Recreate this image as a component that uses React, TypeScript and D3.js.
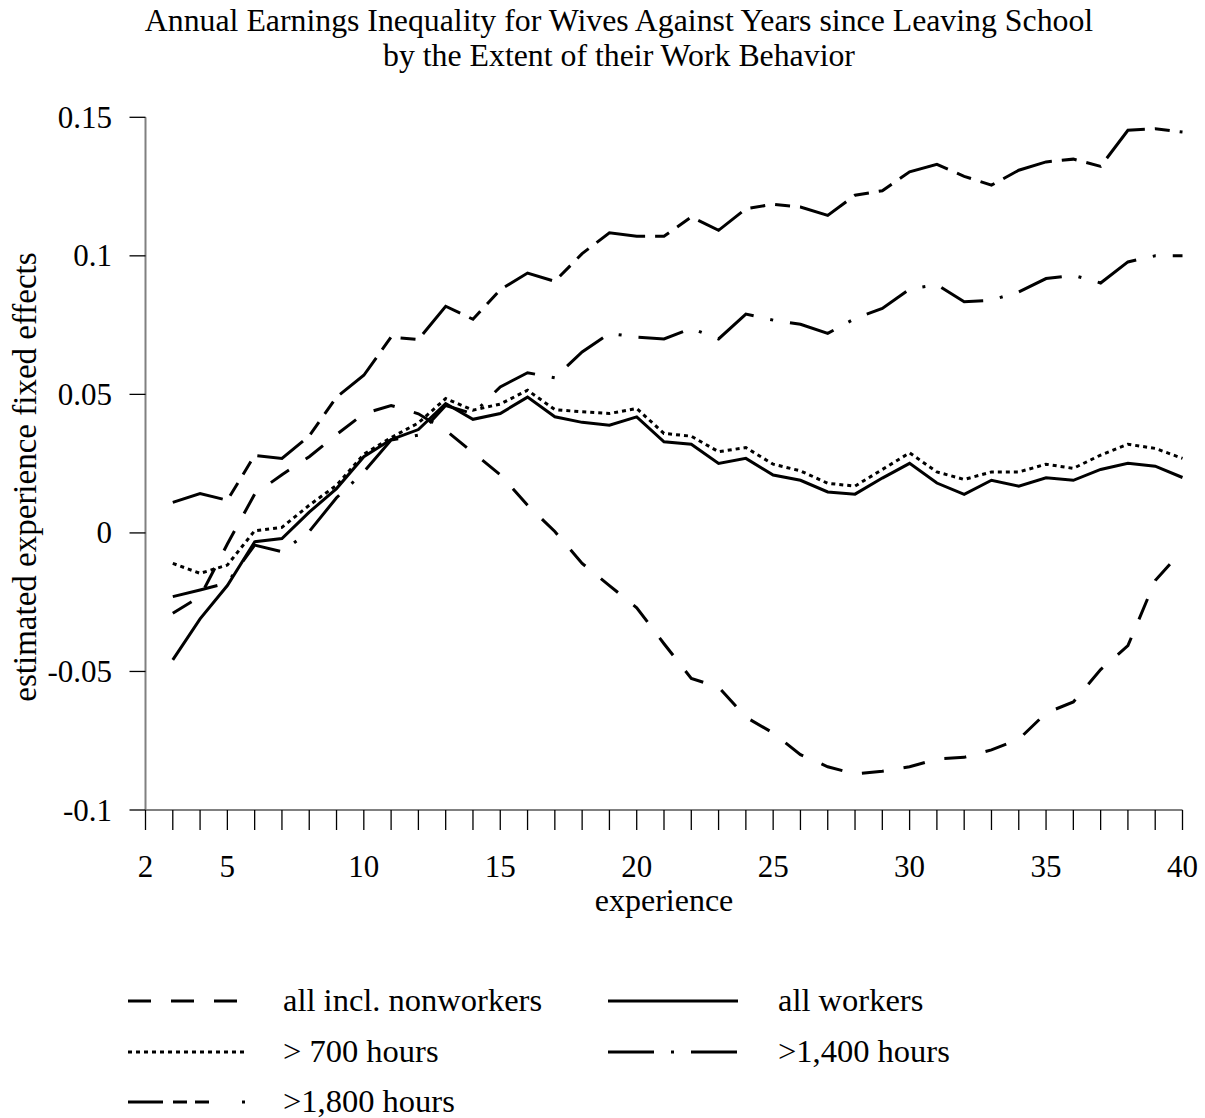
import React from 'react';
import * as d3 from 'd3';

const experience = [3,4,5,6,7,8,9,10,11,12,13,14,15,16,17,18,19,20,21,22,23,24,25,26,27,28,29,30,31,32,33,34,35,36,37,38,39,40];

const allInclNonworkers = [-0.029,-0.023,-0.004,0.014,0.021,0.0275,0.0355,0.043,0.046,0.043,0.037,0.029,0.021,0.010,0.0005,-0.011,-0.019,-0.027,-0.040,-0.0525,-0.0557,-0.0665,-0.0722,-0.080,-0.0844,-0.087,-0.086,-0.0844,-0.0816,-0.081,-0.0783,-0.0745,-0.065,-0.061,-0.0493,-0.0407,-0.0172,-0.0062];

const allWorkers = [-0.0458,-0.031,-0.019,-0.0032,-0.002,0.0075,0.016,0.0275,0.0337,0.0373,0.0467,0.041,0.0431,0.049,0.0419,0.0399,0.0389,0.0419,0.0329,0.032,0.0251,0.0269,0.0209,0.019,0.0148,0.014,0.0198,0.0251,0.018,0.0139,0.019,0.0169,0.0199,0.019,0.0229,0.0251,0.0241,0.020];

const over700 = [-0.011,-0.0146,-0.0116,0.0008,0.002,0.010,0.0172,0.0284,0.0344,0.0397,0.0485,0.0443,0.0465,0.0515,0.0445,0.0437,0.0431,0.0449,0.0359,0.0349,0.0293,0.0308,0.0248,0.0224,0.0179,0.0169,0.0229,0.0289,0.022,0.0193,0.022,0.022,0.0248,0.0233,0.0281,0.032,0.0305,0.0269];

const over1400 = [-0.023,-0.0206,-0.018,-0.0044,-0.0068,0.0005,0.0127,0.022,0.0335,0.0353,0.046,0.043,0.0527,0.0578,0.056,0.0653,0.072,0.0707,0.070,0.0738,0.0700,0.079,0.0768,0.0753,0.072,0.0774,0.081,0.088,0.0896,0.0834,0.084,0.087,0.0918,0.093,0.0902,0.0978,0.100,0.100];

const over1800 = [0.011,0.0142,0.0118,0.028,0.0269,0.035,0.049,0.0569,0.0707,0.0698,0.0818,0.0771,0.0878,0.0938,0.0908,0.1008,0.1083,0.1071,0.1071,0.114,0.1092,0.117,0.1186,0.1176,0.1146,0.1219,0.1235,0.1303,0.133,0.1287,0.1255,0.1309,0.1339,0.1349,0.1323,0.1453,0.1459,0.1447];

const seriesNames = ['all incl. nonworkers', 'all workers', '> 700 hours', '>1,400 hours', '>1,800 hours'];

const xTickLabels = [2, 5, 10, 15, 20, 25, 30, 35, 40];
const yTicks = [0.15, 0.1, 0.05, 0, -0.05, -0.1];
const yTickLabels = ['0.15', '0.1', '0.05', '0', '-0.05', '-0.1'];

const titleLines = [
  'Annual Earnings Inequality for Wives Against Years since Leaving School',
  'by the Extent of their Work Behavior',
];

const FONT = '"Liberation Serif", "Times New Roman", serif';

const styles = [
  { dash: '22,20', legendDash: '23,20' },
  { dash: null, legendDash: null },
  { dash: '4,4', legendDash: '4,4' },
  { dash: '46,17,3,17', legendDash: '46,17,3,17' },
  { dash: '52,10,15,10,15,10', legendDash: '35,10,14,8,14,33,3,20' },
];

const legendPos = [
  { x1: 128, x2: 247, tx: 283, y: 1001 },
  { x1: 608, x2: 738, tx: 778, y: 1001 },
  { x1: 128, x2: 248, tx: 283, y: 1052 },
  { x1: 608, x2: 738, tx: 778, y: 1052 },
  { x1: 128, x2: 248, tx: 283, y: 1102 },
];

export default function App() {
  const W = 1205, H = 1118;
  const x = d3.scaleLinear().domain([2, 40]).range([145.5, 1182.5]);
  const y = d3.scaleLinear().domain([-0.1, 0.15]).range([810, 117.3]);
  const data = [allInclNonworkers, allWorkers, over700, over1400, over1800];
  const line = d3.line<number>().x((_, i) => x(experience[i])).y((d) => y(d));
  const minor = d3.range(2, 41);

  return (
    <svg width={W} height={H} style={{ position: 'absolute', left: 0, top: 0, background: '#fff' }} fontFamily={FONT}>
      <rect x={0} y={0} width={W} height={H} fill="#fff" />
      {titleLines.map((t, i) => (
        <text key={i} x={619} y={31 + i * 35} textAnchor="middle" fontSize={31.8} fill="#000">{t}</text>
      ))}
      <line x1={x(2)} x2={x(2)} y1={y(0.15)} y2={y(-0.1)} stroke="#808080" strokeWidth={2} />
      <line x1={x(2)} x2={x(40)} y1={y(-0.1)} y2={y(-0.1)} stroke="#808080" strokeWidth={2} />
      {yTicks.map((t, i) => (
        <g key={i}>
          <line x1={x(2) - 16} x2={x(2)} y1={y(t)} y2={y(t)} stroke="#000" strokeWidth={1.3} />
          <text x={112} y={y(t) + 10.5} textAnchor="end" fontSize={31} fill="#000">{yTickLabels[i]}</text>
        </g>
      ))}
      {minor.map((m) => (
        <line key={m} x1={x(m)} x2={x(m)} y1={y(-0.1)} y2={y(-0.1) + 20} stroke="#000" strokeWidth={1.3} />
      ))}
      {xTickLabels.map((t) => (
        <text key={t} x={x(t)} y={877} textAnchor="middle" fontSize={31} fill="#000">{t}</text>
      ))}
      <text x={664} y={911} textAnchor="middle" fontSize={32} fill="#000">experience</text>
      <text transform={`translate(36,477) rotate(-90)`} textAnchor="middle" fontSize={33} fill="#000">estimated experience fixed effects</text>
      {data.map((d, i) => (
        <path key={i} d={line(d) || ''} fill="none" stroke="#000" strokeWidth={3}
          strokeDasharray={styles[i].dash || undefined} strokeLinejoin="miter" />
      ))}
      {seriesNames.map((n, i) => {
        const p = legendPos[i];
        return (
          <g key={n}>
            <line x1={p.x1} x2={p.x2} y1={p.y} y2={p.y} stroke="#000" strokeWidth={3}
              strokeDasharray={styles[i].legendDash || undefined} />
            <text x={p.tx} y={p.y + 9.5} fontSize={32.5} fill="#000">{n}</text>
          </g>
        );
      })}
    </svg>
  );
}
